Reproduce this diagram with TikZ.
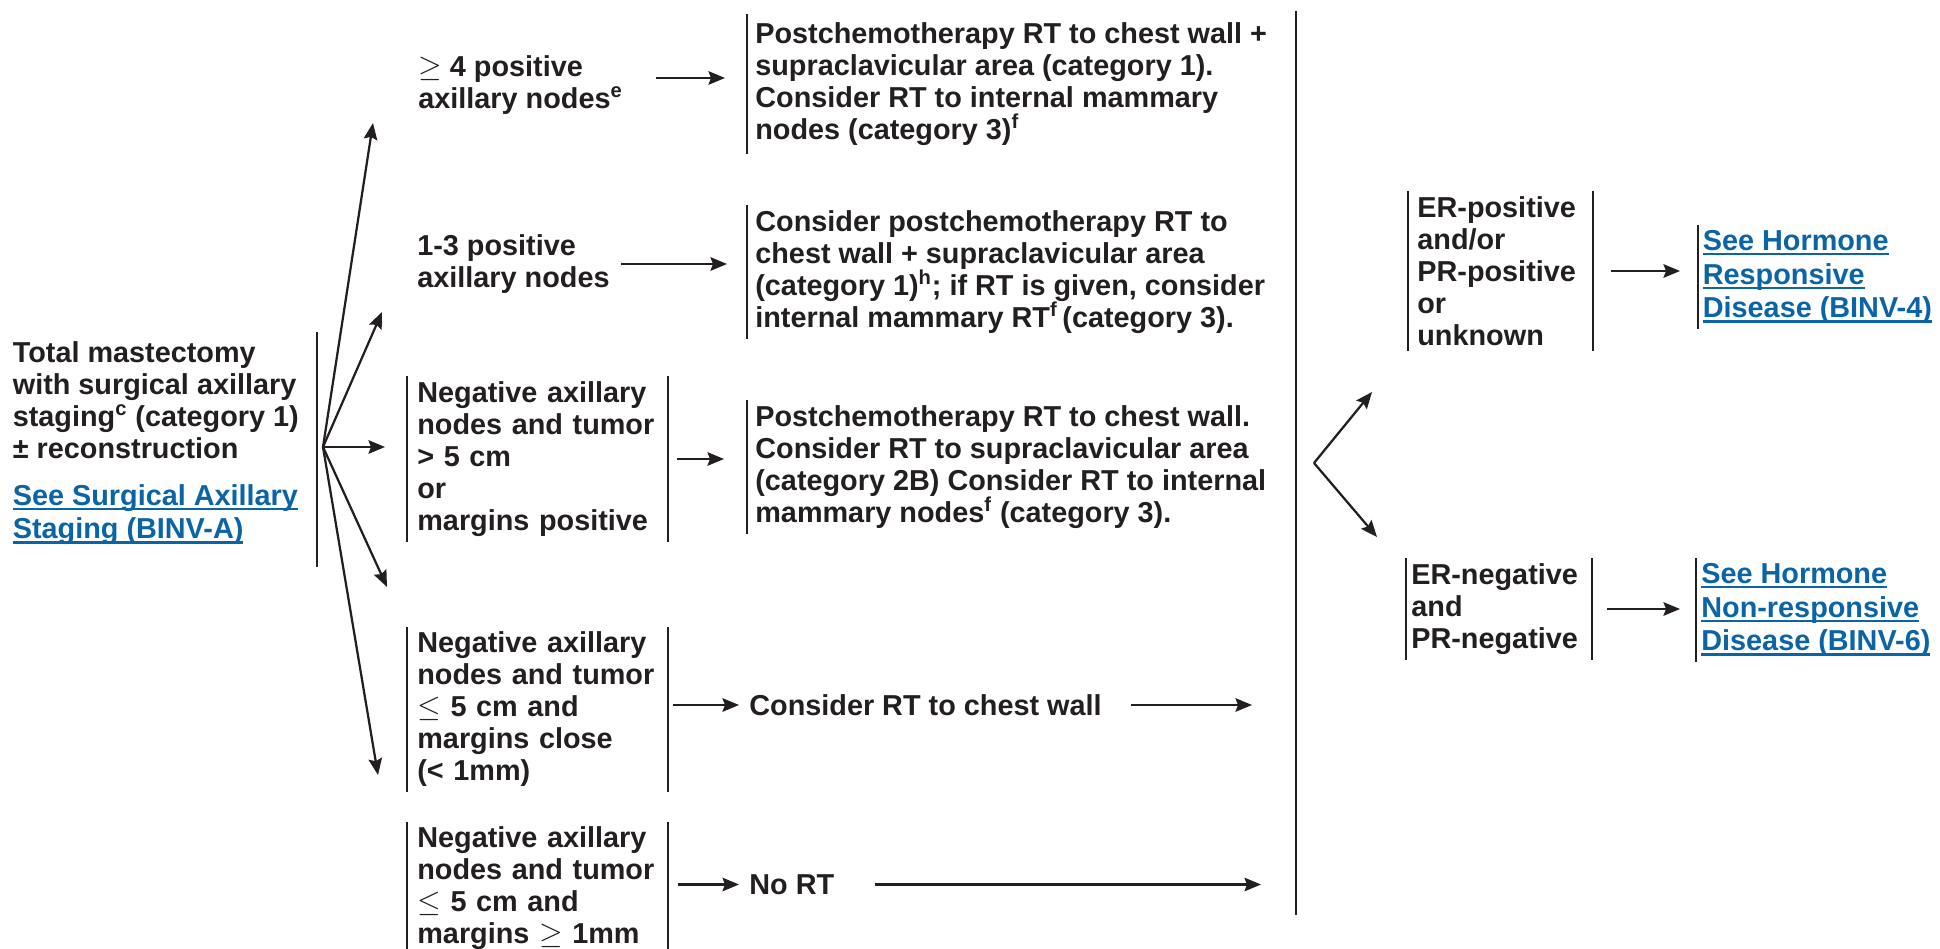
\documentclass[tikz,border=0pt]{standalone}
\usepackage{fontspec}
\setmainfont{Liberation Sans}
\usepackage{tikz}
\usetikzlibrary{arrows.meta}
\usepackage{xcolor}
\definecolor{ink}{HTML}{231F20}
\definecolor{linkblue}{HTML}{0A64A6}
\newlength\ulwd
\newcommand\ulink[1]{\settowidth{\ulwd}{#1}\rlap{\rule[-0.1cm]{\ulwd}{0.05cm}}#1}

\begin{document}
\begin{tikzpicture}[
  txt/.style={font=\bfseries\fontsize{16.4}{18.2}\selectfont, text=ink, inner sep=0, align=left, anchor=west},
  lnk/.style={txt, text=linkblue, font=\bfseries\fontsize{16.4}{19.2}\selectfont},
  blk/.style={inner ysep=0.1cm},
  bar/.style={draw=ink, line width=0.045cm},
  arr/.style={draw=ink, line width=0.045cm, -{Stealth[length=0.33cm, width=0.27cm, inset=0.05cm]}}
]
\useasboundingbox (0,0) rectangle (38.8,18.96);

% Starting point
\node[txt] (src) at (0.25,10.96) {Total mastectomy\\with surgical axillary\\staging\textsuperscript{c} (category 1)\\± reconstruction};
\node[lnk] (srclink) at (0.25,8.67) {\ulink{See Surgical Axillary}\\\ulink{Staging (BINV-A)}};
\draw[bar] (6.34,12.32) -- (6.34,7.62);

% Nodal status
\node[txt] (q4) at (8.36,17.26) {$\geq$ 4 positive\\axillary nodes\textsuperscript{e}};
\node[txt] (q13) at (8.34,13.68) {1-3 positive\\axillary nodes};
\node[txt, blk, inner xsep=0.2cm, text width=4.8cm] (n5) at (8.14,9.78) {Negative axillary\\nodes and tumor\\> 5 cm\\or\\margins positive};
\node[txt, blk, inner xsep=0.2cm, text width=4.8cm] (nc) at (8.14,4.77) {Negative axillary\\nodes and tumor\\$\leq$ 5 cm and\\margins close\\(< 1mm)};
\node[txt, blk, inner xsep=0.2cm, text width=4.8cm] (ng) at (8.14,1.19) {Negative axillary\\nodes and tumor\\$\leq$ 5 cm and\\margins $\geq$ 1mm};

% Radiation therapy
\node[txt, blk, inner xsep=0.16cm, inner ysep=0.16cm] (b1) at (14.94,17.28) {Postchemotherapy RT to chest wall +\\supraclavicular area (category 1).\\Consider RT to internal mammary\\nodes (category 3)\textsuperscript{f}};
\node[txt, blk, inner xsep=0.16cm] (b2) at (14.94,13.52) {Consider postchemotherapy RT to\\chest wall + supraclavicular area\\(category 1)\textsuperscript{h}; if RT is given, consider\\internal mammary RT\textsuperscript{f}\,(category 3).};
\node[txt, blk, inner xsep=0.16cm] (b3) at (14.94,9.62) {Postchemotherapy RT to chest wall.\\Consider RT to supraclavicular area\\(category 2B) Consider RT to internal\\mammary nodes\textsuperscript{f} (category 3).};
\node[txt] (cw) at (14.98,4.86) {Consider RT to chest wall};
\node[txt] (nr) at (14.98,1.27) {No RT};

% Receptor status
\coordinate (jtop) at (25.92,18.74);
\coordinate (jbot) at (25.92,0.66);
\node[txt, blk, inner xsep=0.18cm, text width=3.32cm] (erp) at (28.16,13.54) {ER-positive\\and/or\\PR-positive\\or\\unknown};
\node[txt, blk, inner xsep=0.1cm, text width=3.5cm] (ern) at (28.12,6.78) {ER-negative\\and\\PR-negative};
\node[lnk, blk, inner xsep=0.09cm] (hr) at (33.96,13.42) {\ulink{See Hormone}\\\ulink{Responsive}\\\ulink{Disease (BINV-4)}};
\node[lnk, blk, inner xsep=0.1cm] (hn) at (33.92,6.76) {\ulink{See Hormone}\\\ulink{Non-responsive}\\\ulink{Disease (BINV-6)}};

% Brackets
\draw[bar] (n5.north west) -- (n5.south west);
\draw[bar] (n5.north east) -- (n5.south east);
\draw[bar] (nc.north west) -- (nc.south west);
\draw[bar] (nc.north east) -- (nc.south east);
\draw[bar] (ng.north west) -- (ng.south west);
\draw[bar] (ng.north east) -- (ng.south east);
\draw[bar] (b1.north west) -- (b1.south west);
\draw[bar] (b2.north west) -- (b2.south west);
\draw[bar] (b3.north west) -- (b3.south west);
\draw[bar] (jtop) -- (jbot);
\draw[bar] (erp.north west) -- (erp.south west);
\draw[bar] (erp.north east) -- (erp.south east);
\draw[bar] (ern.north west) -- (ern.south west);
\draw[bar] (ern.north east) -- (ern.south east);
\draw[bar] (hr.north west) -- (hr.south west);
\draw[bar] (hn.north west) -- (hn.south west);

% Fan from the surgery
\coordinate (fo) at (6.46,10.02);
\coordinate (t1) at (7.46,16.50);
\coordinate (t2) at (7.64,12.72);
\coordinate (t3) at (7.70,10.02);
\coordinate (t4) at (7.74,7.22);
\coordinate (t5) at (7.56,3.46);
\draw[arr] (fo) -- (t1);
\draw[arr] (fo) -- (t2);
\draw[arr] (fo) -- (t3);
\draw[arr] (fo) -- (t4);
\draw[arr] (fo) -- (t5);

% Row arrows
\draw[arr, shorten <=0.66cm, shorten >=0.44cm] (q4.east |- 0,17.40) -- (b1.west |- 0,17.40);
\draw[arr, shorten <=0.22cm, shorten >=0.40cm] (q13.east) -- (q13.east -| b2.west);
\draw[arr, shorten <=0.18cm, shorten >=0.46cm] (n5.east) -- (n5.east -| b3.west);
\draw[arr, shorten <=0.1cm, shorten >=0.2cm] (cw.west -| nc.east) -- (cw.west);
\draw[arr, shorten <=0.58cm, shorten >=0.88cm] (cw.east) -- (cw.east -| jbot);
\draw[arr, shorten <=0.2cm, shorten >=0.2cm] (nr.west -| ng.east) -- (nr.west);
\draw[arr, shorten <=0.8cm, shorten >=0.7cm] (nr.east) -- (nr.east -| jbot);

% Fan to receptor status
\coordinate (ro) at (26.28,9.70);
\coordinate (r1) at (27.44,11.12);
\coordinate (r2) at (27.54,8.22);
\draw[arr] (ro) -- (r1);
\draw[arr] (ro) -- (r2);
\draw[arr, shorten <=0.36cm, shorten >=0.36cm] (erp.east) -- (erp.east -| hr.west);
\draw[arr, shorten <=0.3cm, shorten >=0.32cm] (ern.east) -- (ern.east -| hn.west);

\end{tikzpicture}
\end{document}
